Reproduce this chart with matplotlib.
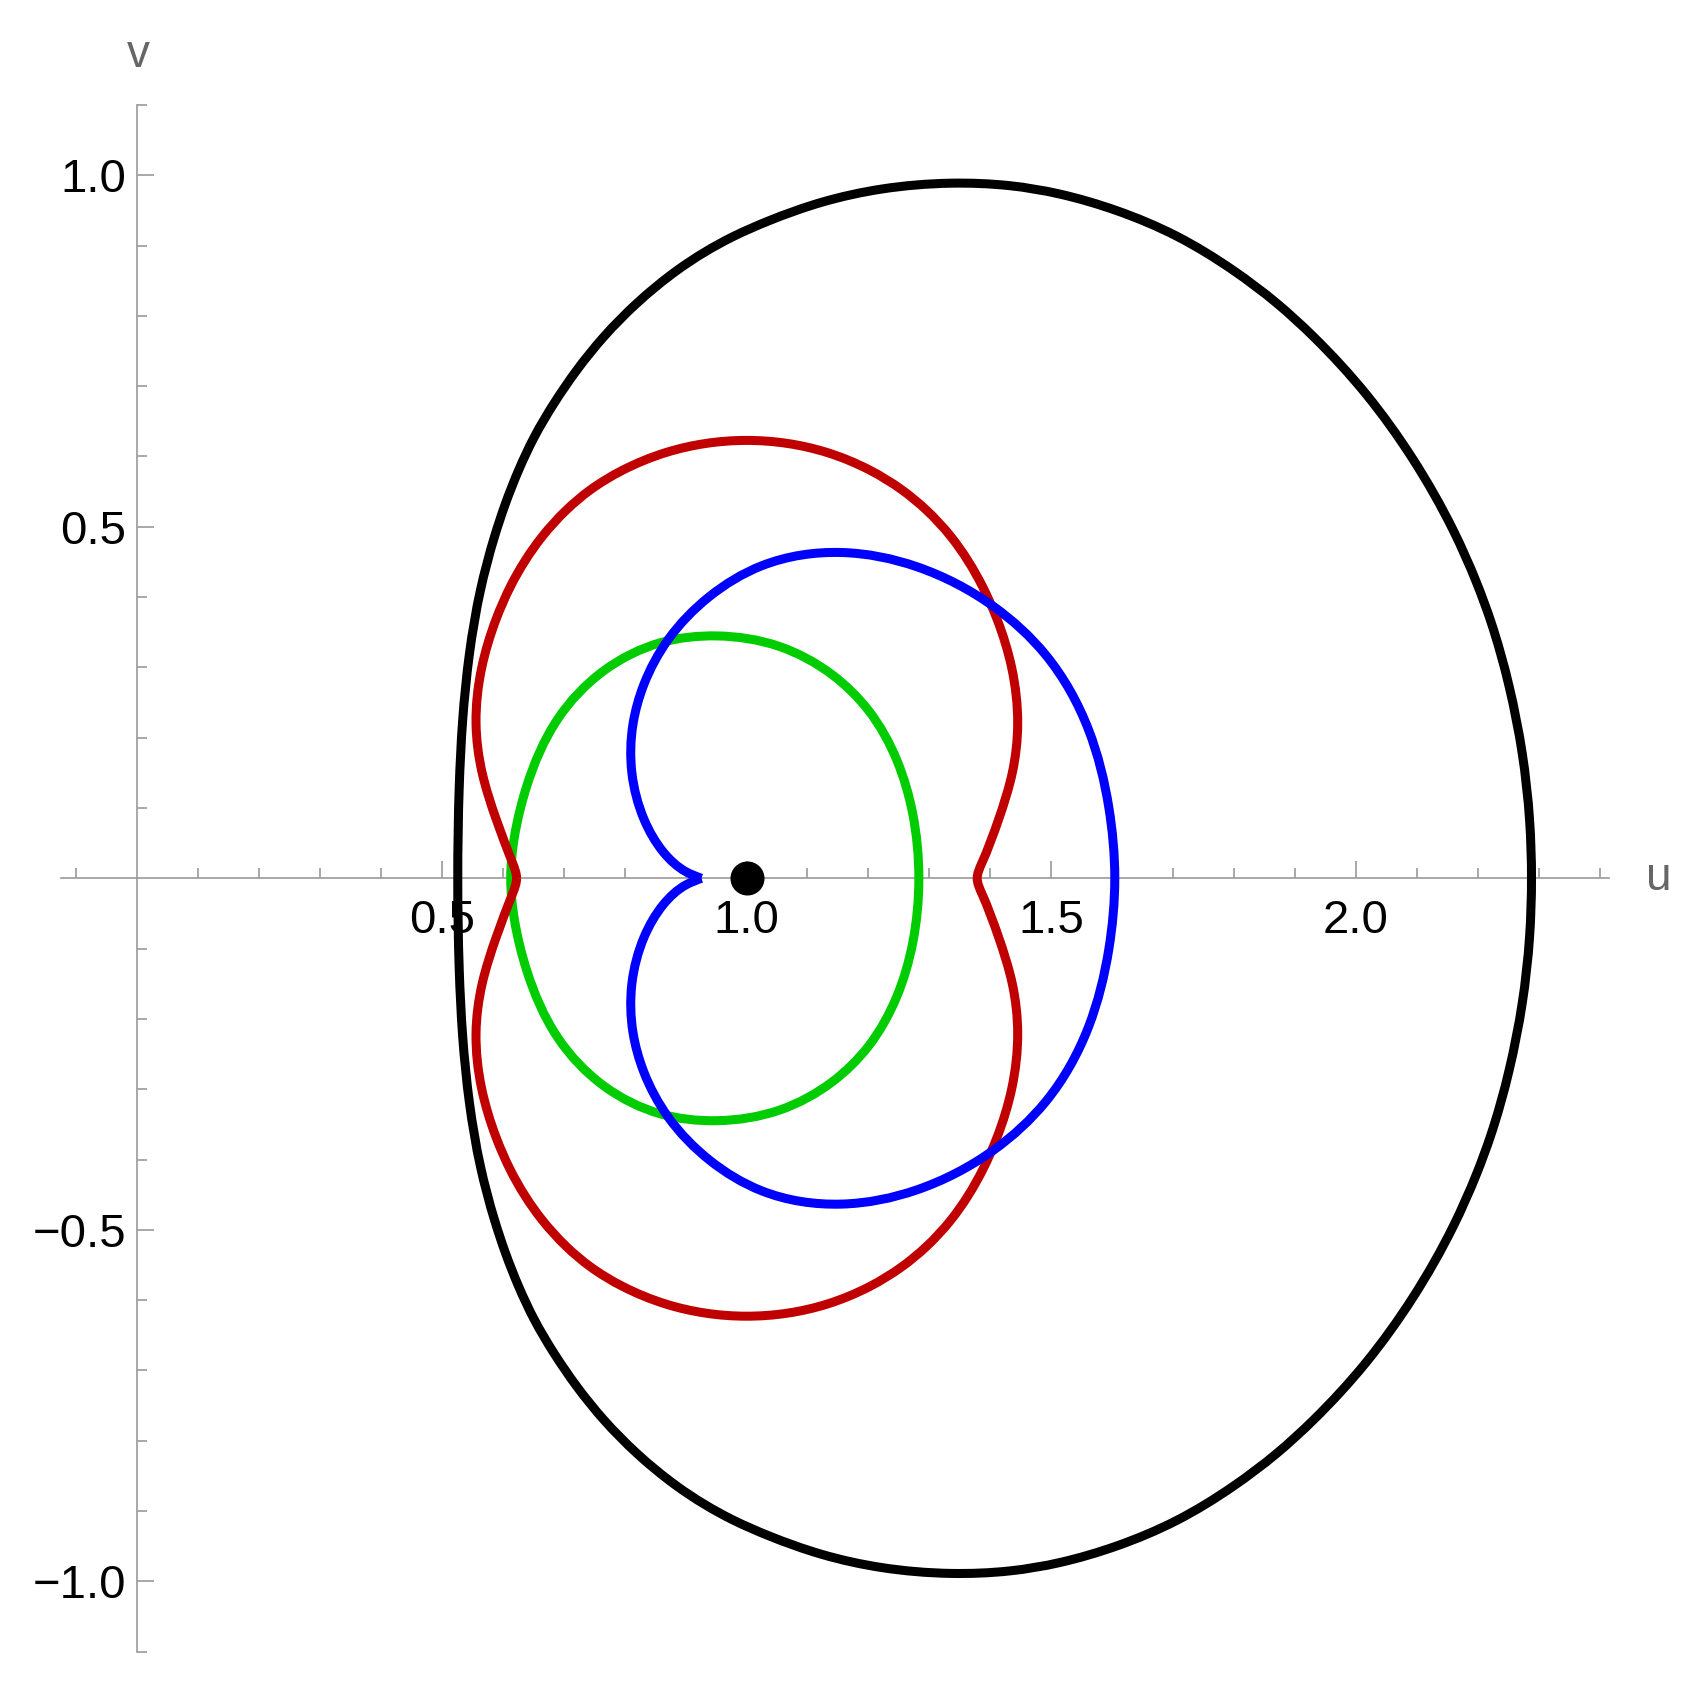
import matplotlib
matplotlib.use("Agg")
import matplotlib.pyplot as plt
from matplotlib.path import Path
from matplotlib.patches import PathPatch
import numpy as np

# ---- data: upper halves (v >= 0) of each closed curve ----
black_u = [0.528, 0.529, 0.533, 0.544, 0.563, 0.587, 0.604, 0.626, 0.652, 0.684, 0.722,
           0.767, 0.819, 0.886, 0.978, 1.036, 1.123, 1.222, 1.335, 1.432, 1.514, 1.607,
           1.706, 1.799, 1.870, 1.930, 2.017, 2.093, 2.160, 2.197, 2.222, 2.252, 2.271,
           2.285, 2.289]
black_v = [0.000, 0.130, 0.225, 0.320, 0.410, 0.486, 0.533, 0.581, 0.628, 0.676, 0.723,
           0.770, 0.818, 0.865, 0.913, 0.936, 0.960, 0.980, 0.991, 0.984, 0.973, 0.951,
           0.913, 0.865, 0.818, 0.770, 0.690, 0.595, 0.495, 0.420, 0.367, 0.273, 0.178,
           0.083, 0.000]

red_u = [0.626, 0.619, 0.592, 0.565, 0.556, 0.566, 0.589, 0.613, 0.664, 0.705, 0.743, 0.796,
         0.867, 1.000, 1.134, 1.203, 1.255, 1.295, 1.336, 1.387, 1.411, 1.435, 1.445, 1.437,
         1.412, 1.382, 1.376]
red_v = [0.000, 0.022, 0.083, 0.150, 0.220, 0.300, 0.368, 0.415, 0.486, 0.524, 0.552, 0.581,
         0.605, 0.6235, 0.605, 0.581, 0.552, 0.524, 0.486, 0.415, 0.368, 0.300, 0.220, 0.150,
         0.083, 0.022, 0.000]

green_u = [0.611, 0.620, 0.640, 0.690, 0.765, 0.860, 0.951, 1.054, 1.142, 1.200, 1.247, 1.273, 1.282]
green_v = [0.000, 0.059, 0.130, 0.225, 0.298, 0.334, 0.346, 0.329, 0.290, 0.239, 0.168, 0.092, 0.000]

blue_u = [0.926, 0.900, 0.864, 0.831, 0.813, 0.813, 0.831, 0.872, 0.937, 1.024, 1.156, 1.280,
          1.404, 1.494, 1.560, 1.594, 1.605]
blue_v = [0.000, 0.008, 0.036, 0.083, 0.150, 0.220, 0.275, 0.339, 0.401, 0.443, 0.467, 0.441,
          0.386, 0.320, 0.210, 0.100, 0.000]

point_u = [1.0]
point_v = [0.0]

x_major = [0.5, 1.0, 1.5, 2.0]
x_major_labels = ["0.5", "1.0", "1.5", "2.0"]
y_major = [-1.0, -0.5, 0.5, 1.0]
y_major_labels = ["\u22121.0", "\u22120.5", "0.5", "1.0"]


def mirrored(u, v):
    """Upper half + reflected lower half (the figure is symmetric about v = 0)."""
    u = np.asarray(u, float)
    v = np.asarray(v, float)
    uu = np.concatenate([u, u[::-1][1:]])
    vv = np.concatenate([v, -v[::-1][1:]])
    return uu, vv


SY = 703.0 / 609.5  # pixel aspect of the axes (v unit / u unit)


def local_quad_smooth(S, closed, half):
    """Light local-quadratic smoothing of hand-read points (removes reading jitter)."""
    n = len(S)
    out = S.copy()
    for i in range(n):
        if not closed and (i == 0 or i == n - 1):
            continue
        idx = []
        for k in range(-half, half + 1):
            j = i + k
            if closed:
                j %= n
            elif j < 0 or j > n - 1:
                continue
            idx.append(j)
        if len(idx) <= 3:
            continue
        pos = idx.index(i)
        s = [0.0] * len(idx)
        for m in range(pos + 1, len(idx)):
            s[m] = s[m - 1] + np.hypot(*(S[idx[m]] - S[idx[m - 1]]))
        for m in range(pos - 1, -1, -1):
            s[m] = s[m + 1] - np.hypot(*(S[idx[m + 1]] - S[idx[m]]))
        for c in range(2):
            coef = np.polyfit(s, S[idx, c], 2)
            out[i, c] = np.polyval(coef, 0.0)
    return out


def smooth_path(u, v, closed, half):
    """C2 cubic spline through the (lightly smoothed) points, as Bezier segments."""
    P = np.column_stack([u, v]).astype(float)
    if closed and np.allclose(P[0], P[-1]):
        P = P[:-1]
    S = P * np.array([1.0, SY])
    if half > 0:
        S = local_quad_smooth(S, closed, half)
    P = S / np.array([1.0, SY])
    n = len(S)
    if closed:
        nxt = np.roll(S, -1, axis=0)
        h = np.hypot(*(nxt - S).T)
        A = np.zeros((n, n))
        R = np.zeros((n, 2))
        for i in range(n):
            hp, hi = h[i - 1], h[i]
            A[i, (i - 1) % n] = hp
            A[i, i] = 2 * (hp + hi)
            A[i, (i + 1) % n] = hi
            R[i] = 6 * ((S[(i + 1) % n] - S[i]) / hi - (S[i] - S[i - 1]) / hp)
        M = np.linalg.solve(A, R)
        segs = n
    else:
        h = np.hypot(*(S[1:] - S[:-1]).T)
        A = np.zeros((n, n))
        R = np.zeros((n, 2))
        A[0, 0] = 1.0
        A[-1, -1] = 1.0
        for i in range(1, n - 1):
            A[i, i - 1] = h[i - 1]
            A[i, i] = 2 * (h[i - 1] + h[i])
            A[i, i + 1] = h[i]
            R[i] = 6 * ((S[i + 1] - S[i]) / h[i] - (S[i] - S[i - 1]) / h[i - 1])
        M = np.linalg.solve(A, R)
        segs = n - 1
    verts = [P[0]]
    codes = [Path.MOVETO]
    for i in range(segs):
        j = (i + 1) % n
        hi = h[i]
        d0 = (S[j] - S[i]) / hi - hi * (2 * M[i] + M[j]) / 6
        d1 = (S[j] - S[i]) / hi + hi * (M[i] + 2 * M[j]) / 6
        c1 = S[i] + hi * d0 / 3
        c2 = S[j] - hi * d1 / 3
        verts += [c1 / [1, SY], c2 / [1, SY], P[j]]
        codes += [Path.CURVE4] * 3
    return Path(np.array(verts), codes)


W, H = 1690, 1688
fig = plt.figure(figsize=(W / 100, H / 100), dpi=100)
u0px, upx = 137.0, 609.5
v0px, vpx = 878.3, 703.0
xlim = (-0.13, 2.42)
ylim = (-1.11, 1.11)
left = (u0px + xlim[0] * upx) / W
right = (u0px + xlim[1] * upx) / W
top_px = v0px - ylim[1] * vpx
bot_px = v0px - ylim[0] * vpx
ax = fig.add_axes([left, 1 - bot_px / H, right - left, (bot_px - top_px) / H])
ax.set_xlim(xlim)
ax.set_ylim(ylim)
ax.patch.set_visible(False)

fam = ["Liberation Sans", "DejaVu Sans"]
plt.rcParams["font.family"] = fam
axis_col = "#9a9a9a"
for s in ["top", "right"]:
    ax.spines[s].set_visible(False)
ax.spines["bottom"].set_position(("data", 0))
ax.spines["left"].set_position(("data", 0))
ax.spines["bottom"].set_bounds(-0.125, 2.415)
ax.spines["left"].set_bounds(-1.1, 1.1)
for s in ["bottom", "left"]:
    ax.spines[s].set_color(axis_col)
    ax.spines[s].set_linewidth(1.2)
    ax.spines[s].set_zorder(0.5)

ax.set_xticks(x_major)
ax.set_xticklabels(x_major_labels)
ax.set_yticks(y_major)
ax.set_yticklabels(y_major_labels)
xminor = [round(-0.1 + 0.1 * i, 1) for i in range(26)]
xminor = [t for t in xminor if abs(t) > 1e-9 and t not in x_major]
yminor = [round(-1.1 + 0.1 * i, 1) for i in range(23)]
yminor = [t for t in yminor if abs(t) > 1e-9 and t not in y_major]
ax.set_xticks(xminor, minor=True)
ax.set_yticks(yminor, minor=True)
ax.tick_params(which="major", direction="in", length=12.5, width=1.2, color=axis_col,
               labelsize=34, labelcolor="black")
ax.tick_params(which="minor", direction="in", length=7.5, width=1.2, color=axis_col)
ax.tick_params(axis="x", which="major", pad=15)
ax.tick_params(axis="y", which="major", pad=7.5)
for lab in ax.get_xticklabels() + ax.get_yticklabels():
    lab.set_fontfamily(fam)

lw = 6.5
curves = [
    (black_u, black_v, "black", True, 2, 3),
    (green_u, green_v, "#00CC00", True, 3, 2),
    (red_u, red_v, "#C00000", True, 4, 2),
    (blue_u, blue_v, "#0000FF", False, 5, 2),  # blue has a cusp at its start/end point
]
for cu, cv, col, is_closed, z, half in curves:
    uu, vv = mirrored(cu, cv)
    path = smooth_path(uu, vv, is_closed, half)
    ax.add_patch(PathPatch(path, facecolor="none", edgecolor=col, lw=lw,
                           joinstyle="round", capstyle="butt", zorder=z))

ax.plot(point_u, point_v, "o", ms=23.5, color="black", zorder=6)

ax.text(2.497, 0.0, "u", ha="center", va="center", fontsize=33, color="#666666",
        family=fam, clip_on=False)
ax.text(0.003, 1.171, "v", ha="center", va="center", fontsize=33, color="#666666",
        family=fam, clip_on=False)

fig.savefig("out.png", dpi=100)
